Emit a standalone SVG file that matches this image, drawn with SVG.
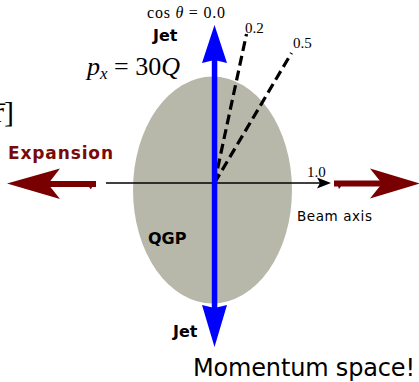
<svg xmlns="http://www.w3.org/2000/svg" width="419" height="382" viewBox="0 0 419 382">
<style>
.serif{font-family:"Liberation Serif","DejaVu Serif",serif;}
.bold{font-family:"DejaVu Sans","Noto Sans",sans-serif;font-weight:bold;}
.sans{font-family:"DejaVu Sans","Noto Sans",sans-serif;}
.dash{stroke:#000;stroke-width:3.2;stroke-dasharray:10,5;fill:none;}
.red{fill:#780000;}
.blue{fill:#0000ff;}
</style>
<rect width="419" height="382" fill="#fff"/>
<text class="serif" x="-6" y="122" font-size="30">r̄]</text>
<g id="qgp">
<ellipse cx="212.5" cy="190" rx="79.5" ry="113.5" fill="#b8b8aa"/>
<text class="bold" x="148" y="244" font-size="16">QGP</text>
</g>
<g id="connectors">
<line x1="106" y1="183" x2="322" y2="183" stroke="#000" stroke-width="1.5"/>
<polygon points="331,183 317,177.5 320,183 317,188.5" fill="#000"/>
<line class="dash" x1="214.5" y1="183" x2="246.5" y2="34"/>
<line class="dash" x1="214.5" y1="183" x2="291.5" y2="53"/>
<rect class="blue" x="211.8" y="60" width="5.5" height="248"/>
<polygon class="blue" points="214.5,25 227,63 214.5,60 202,63"/>
<polygon class="blue" points="214.5,347 227,305 214.5,308 202,305"/>
</g>
<g id="expansion-right">
<polygon class="red" points="334,180.5 384,180.5 384,186.5 341,186.5 339,189 338,186.5 334,186.5"/>
<polygon class="red" points="370,168.5 420,183.5 370,198.5 382,183.5"/>
</g>
<g id="expansion-left">
<polygon class="red" points="96,181 46,181 46,187 89,187 91,189.5 92,187 96,187"/>
<polygon class="red" points="60,168.5 7,183.5 60,199 48,184"/>
<text class="bold" x="8" y="159" font-size="17" fill="#7a0a0a" textLength="105">Expansion</text>
</g>
<g id="labels">
<text class="serif" x="147" y="18" font-size="16" textLength="78">cos <tspan font-style="italic">θ</tspan> = 0.0</text>
<text class="bold" x="153" y="41" font-size="16">Jet</text>
<text class="bold" x="173" y="337" font-size="16">Jet</text>
<text class="serif" x="87" y="75" font-size="26"><tspan font-style="italic">p</tspan><tspan font-style="italic" font-size="17" dy="4">x</tspan><tspan dy="-4"> = 30</tspan><tspan font-style="italic">Q</tspan></text>
<text class="serif" x="245" y="33" font-size="15">0.2</text>
<text class="serif" x="293" y="48" font-size="15">0.5</text>
<text class="serif" x="307" y="177" font-size="15">1.0</text>
<text class="sans" x="297" y="221" font-size="13.5" textLength="75">Beam axis</text>
<text class="sans" x="193" y="376" font-size="24" textLength="222">Momentum space!</text>
</g>
</svg>
